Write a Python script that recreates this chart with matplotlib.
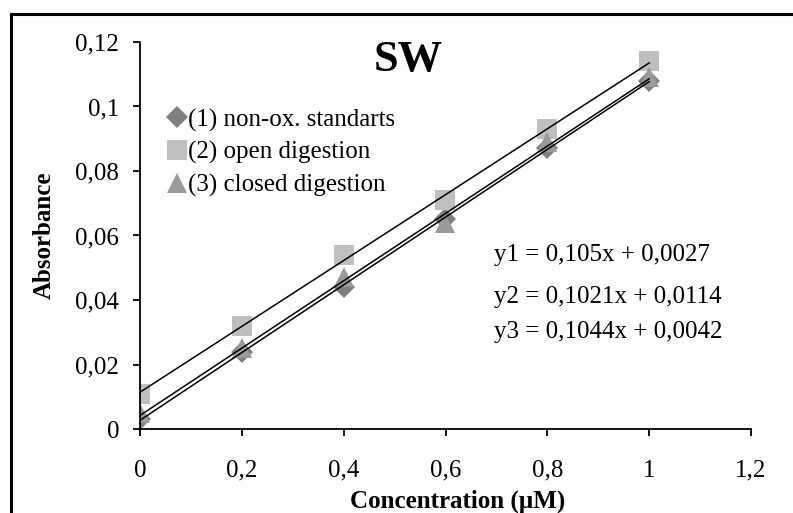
import matplotlib
matplotlib.use("Agg")
import matplotlib.pyplot as plt
from matplotlib.lines import Line2D
from matplotlib.ticker import FuncFormatter
import numpy as np

plt.rcParams['font.family'] = ['Liberation Serif', 'DejaVu Serif']

#%% Data ######################################################################
conc = [0, 0.2, 0.4, 0.6, 0.8, 1.0]
abs_nonox = [0.003, 0.024, 0.044, 0.065, 0.087, 0.108]
abs_open = [0.011, 0.032, 0.054, 0.071, 0.093, 0.114]
abs_closed = [0.005, 0.025, 0.047, 0.064, 0.089, 0.109]

labels = ["(1) non-ox. standarts", "(2) open digestion", "(3) closed digestion"]
slopes = [0.105, 0.1021, 0.1044]
intercepts = [0.0027, 0.0114, 0.0042]
eq_text = ["y1 = 0,105x + 0,0027", "y2 = 0,1021x + 0,0114", "y3 = 0,1044x + 0,0042"]

#%% Plot ######################################################################
W, H = 793, 513
fig = plt.figure(figsize=(W/100, H/100), dpi=100)
ax = fig.add_axes([140/W, 1 - 429/H, 611/W, 387/H])

styles = [('D', '#7f7f7f', 11), ('s', '#bfbfbf', 14), ('^', '#9a9a9a', 14)]
series = [abs_nonox, abs_open, abs_closed]

for ys, (m, c, ms), lab in zip(series, styles, labels):
    ax.plot(conc, ys, linestyle='none', marker=m, color=c, markersize=ms,
            markeredgewidth=0, label=lab, zorder=2)

# trendlines
xx = np.array([conc[0], conc[-1]])
for k, b in zip(slopes, intercepts):
    ax.plot(xx, k*xx + b, color='black', lw=1.1, zorder=3)

ax.set_xlim(0, 1.2)
ax.set_ylim(0, 0.12)
ax.set_xticks(np.arange(0, 1.21, 0.2))
ax.set_yticks(np.arange(0, 0.121, 0.02))
fmt = FuncFormatter(lambda v, p: ('%g' % round(v, 3)).replace('.', ','))
ax.xaxis.set_major_formatter(fmt)
ax.yaxis.set_major_formatter(fmt)
ax.tick_params(labelsize=18, direction='out', length=5, width=1.3, pad=10)
ax.tick_params(axis='x', pad=17)
for s in ['top', 'right']:
    ax.spines[s].set_visible(False)
for s in ['left', 'bottom']:
    ax.spines[s].set_linewidth(1.3)

ax.set_xlabel('Concentration (µM)', fontsize=18, fontweight='bold', va='center')
ax.xaxis.set_label_coords((458 - 140)/611, -(501 - 429)/387)
ax.set_ylabel('Absorbance', fontsize=18, fontweight='bold', va='center')
ax.yaxis.set_label_coords(-(140 - 44)/611, 0.5)

fig.text(408/W, 1 - 60/H, 'SW', fontsize=32, fontweight='bold',
         ha='center', va='center')

leg = ax.legend(loc='upper left', bbox_to_anchor=(157/W, 1 - 96/H),
                bbox_transform=fig.transFigure, frameon=False, fontsize=18,
                handlelength=0.6, handletextpad=0.15, labelspacing=0.38,
                borderpad=0)

for t, yy in zip(eq_text, [255, 297, 332]):
    fig.text(494/W, 1 - yy/H, t, fontsize=18, ha='left', va='center')

# outer frame lines
fig.add_artist(Line2D([11/W, 1], [1 - 14/H, 1 - 14/H], color='black', lw=2.2))
fig.add_artist(Line2D([11/W, 11/W], [0, 1 - 14/H], color='black', lw=2.2))

fig.savefig('out.png', dpi=100)
